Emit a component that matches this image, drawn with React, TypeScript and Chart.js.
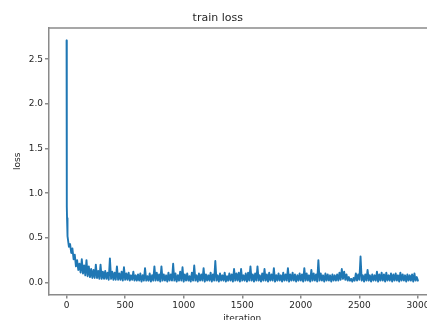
import React, { useEffect, useRef } from "react";
import { Chart, registerables } from "chart.js";

Chart.register(...registerables);

// ---- data ----
const TITLE = "train loss";
const X_LABEL = "iteration";
const Y_LABEL = "loss";
const X_TICKS = [0, 500, 1000, 1500, 2000, 2500, 3000];
const Y_TICKS = [0, 0.5, 1.0, 1.5, 2.0, 2.5];

// first few iterations (steep drop)
const EARLY_ITERS = [0, 1, 2, 3, 4, 6, 8];
const EARLY_LOSS = [2.71, 1.95, 1.35, 0.85, 0.72, 0.62, 0.58];

// loss every 10 iterations, from iteration 10 to 3000
const STEP_START = 10;
const STEP = 10;
const LOSS = [
  0.52, 0.40, 0.43, 0.33, 0.38, 0.26, 0.31, 0.18, 0.25, 0.14,
  0.21, 0.11, 0.26, 0.10, 0.19, 0.08, 0.25, 0.07, 0.18, 0.06,
  0.15, 0.05, 0.14, 0.05, 0.20, 0.05, 0.13, 0.04, 0.20, 0.04,
  0.12, 0.04, 0.13, 0.04, 0.11, 0.03, 0.27, 0.04, 0.12, 0.03,
  0.11, 0.03, 0.18, 0.03, 0.10, 0.03, 0.12, 0.02, 0.17, 0.03,
  0.10, 0.03, 0.11, 0.02, 0.08, 0.03, 0.12, 0.02, 0.08, 0.02,
  0.09, 0.02, 0.10, 0.01, 0.08, 0.02, 0.16, 0.02, 0.07, 0.02,
  0.10, 0.01, 0.08, 0.02, 0.18, 0.02, 0.11, 0.02, 0.09, 0.01,
  0.18, 0.02, 0.09, 0.02, 0.08, 0.01, 0.11, 0.02, 0.09, 0.02,
  0.21, 0.02, 0.10, 0.01, 0.08, 0.02, 0.12, 0.02, 0.17, 0.01,
  0.09, 0.02, 0.10, 0.02, 0.07, 0.01, 0.11, 0.02, 0.19, 0.02,
  0.08, 0.01, 0.10, 0.02, 0.09, 0.02, 0.16, 0.01, 0.09, 0.02,
  0.08, 0.02, 0.11, 0.01, 0.09, 0.02, 0.24, 0.02, 0.08, 0.01,
  0.10, 0.02, 0.08, 0.02, 0.11, 0.01, 0.07, 0.02, 0.10, 0.02,
  0.09, 0.01, 0.15, 0.02, 0.10, 0.02, 0.11, 0.01, 0.15, 0.02,
  0.08, 0.02, 0.10, 0.01, 0.11, 0.02, 0.18, 0.02, 0.09, 0.01,
  0.10, 0.02, 0.18, 0.02, 0.08, 0.01, 0.10, 0.02, 0.15, 0.02,
  0.09, 0.01, 0.11, 0.02, 0.09, 0.02, 0.16, 0.01, 0.08, 0.02,
  0.10, 0.02, 0.08, 0.01, 0.11, 0.02, 0.09, 0.02, 0.16, 0.01,
  0.09, 0.02, 0.11, 0.02, 0.09, 0.01, 0.08, 0.02, 0.10, 0.02,
  0.09, 0.01, 0.16, 0.02, 0.10, 0.02, 0.08, 0.01, 0.14, 0.02,
  0.10, 0.02, 0.09, 0.01, 0.25, 0.02, 0.10, 0.02, 0.08, 0.01,
  0.10, 0.02, 0.09, 0.02, 0.08, 0.01, 0.09, 0.02, 0.08, 0.02,
  0.09, 0.02, 0.11, 0.03, 0.15, 0.04, 0.12, 0.03, 0.09, 0.02,
  0.06, 0.02, 0.04, 0.01, 0.05, 0.02, 0.10, 0.02, 0.09, 0.03,
  0.29, 0.02, 0.08, 0.01, 0.09, 0.02, 0.14, 0.02, 0.08, 0.01,
  0.09, 0.02, 0.08, 0.02, 0.12, 0.01, 0.09, 0.02, 0.11, 0.02,
  0.09, 0.01, 0.11, 0.02, 0.08, 0.02, 0.10, 0.01, 0.09, 0.02,
  0.10, 0.02, 0.08, 0.01, 0.11, 0.02, 0.09, 0.02, 0.08, 0.01,
  0.09, 0.02, 0.08, 0.02, 0.09, 0.01, 0.10, 0.02, 0.06, 0.02,
];

const X_MIN = -150;
const X_MAX = 3150;
const Y_MIN = -0.135;
const Y_MAX = 2.85;

const W = 460;
const H = 340;
const FONT = "'DejaVu Sans', sans-serif";
const TEXT = "#262626";
const SPINE = "#8a8a8a";
const LINE = "#1f77b4";

const spinesPlugin = {
  id: "spines",
  afterDraw(chart: any) {
    const { ctx, chartArea } = chart;
    const { left, top, right, bottom } = chartArea;
    ctx.save();
    ctx.strokeStyle = SPINE;
    ctx.lineWidth = 1.5;
    ctx.beginPath();
    ctx.moveTo(left, top);
    ctx.lineTo(right, top);
    ctx.lineTo(right, bottom);
    ctx.stroke();
    ctx.restore();
  },
};

export default function App() {
  const ref = useRef<HTMLCanvasElement>(null);

  useEffect(() => {
    const points = [
      ...EARLY_ITERS.map((x, i) => ({ x, y: EARLY_LOSS[i] })),
      ...LOSS.map((y, i) => ({ x: STEP_START + i * STEP, y })),
    ];
    const chart = new Chart(ref.current as HTMLCanvasElement, {
      type: "line",
      data: {
        datasets: [
          {
            data: points,
            borderColor: LINE,
            borderWidth: 1.9,
            borderJoinStyle: "round",
            borderCapStyle: "round",
            pointRadius: 0,
            tension: 0,
            fill: false,
          },
        ],
      },
      options: {
        animation: false,
        responsive: false,
        devicePixelRatio: 1,
        layout: { padding: { left: 0, top: 0, right: W - 435.5, bottom: H - 324.5 } },
        plugins: {
          legend: { display: false },
          tooltip: { enabled: false },
          title: {
            display: true,
            text: TITLE,
            color: TEXT,
            font: { family: FONT, size: 11, weight: "normal" },
            padding: { top: 11.9, bottom: 2.9 },
          },
        },
        scales: {
          x: {
            type: "linear",
            min: X_MIN,
            max: X_MAX,
            afterBuildTicks: (s: any) => {
              s.ticks = X_TICKS.map((v) => ({ value: v }));
            },
            afterFit: (s: any) => {
              s.height = 30;
              s.paddingLeft = 0;
              s.paddingRight = 0;
            },
            ticks: {
              color: TEXT,
              font: { family: FONT, size: 9 },
              padding: 2,
              maxRotation: 0,
              autoSkip: false,
              callback: (v: any) => String(v),
            },
            grid: {
              drawOnChartArea: false,
              drawTicks: true,
              tickLength: 4,
              color: SPINE,
              lineWidth: 1.5,
            },
            border: { display: true, color: SPINE, width: 1.5 },
            title: {
              display: true,
              text: X_LABEL,
              color: TEXT,
              font: { family: FONT, size: 9 },
              padding: { top: 0, bottom: 0 },
            },
          },
          y: {
            type: "linear",
            min: Y_MIN,
            max: Y_MAX,
            afterBuildTicks: (s: any) => {
              s.ticks = Y_TICKS.map((v) => ({ value: v }));
            },
            afterFit: (s: any) => {
              s.width = 49;
              s.paddingTop = 0;
              s.paddingBottom = 0;
            },
            ticks: {
              color: TEXT,
              font: { family: FONT, size: 9 },
              padding: 2,
              autoSkip: false,
              callback: (v: any) => Number(v).toFixed(1),
            },
            grid: {
              drawOnChartArea: false,
              drawTicks: true,
              tickLength: 4,
              color: SPINE,
              lineWidth: 1.5,
            },
            border: { display: true, color: SPINE, width: 1.5 },
            title: {
              display: true,
              text: Y_LABEL,
              color: TEXT,
              font: { family: FONT, size: 9 },
              padding: { top: 12.5, bottom: 0 },
            },
          },
        },
      },
      plugins: [spinesPlugin],
    });
    return () => chart.destroy();
  }, []);

  return (
    <div
      style={{
        position: "fixed",
        left: 0,
        top: 0,
        width: W,
        height: H,
        background: "#fff",
      }}
    >
      <canvas ref={ref} width={W} height={H} style={{ width: W, height: H, display: "block" }} />
    </div>
  );
}
